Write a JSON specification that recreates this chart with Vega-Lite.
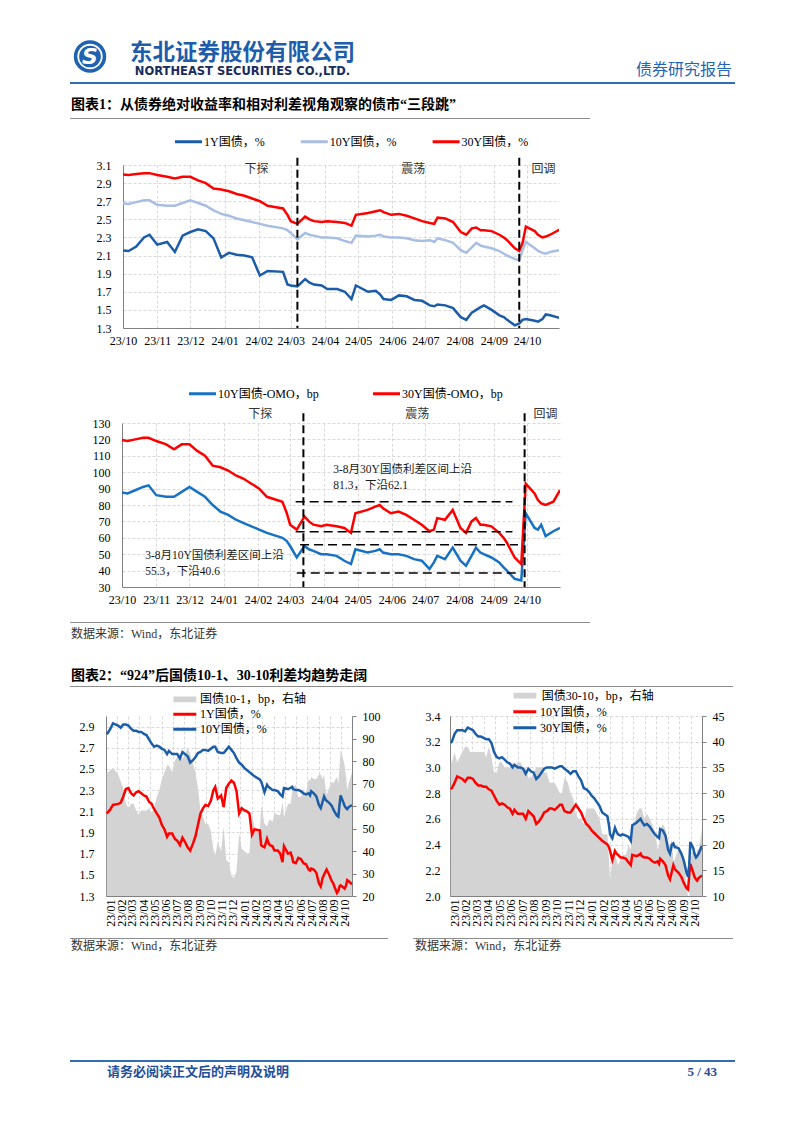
{
"$schema": "https://vega.github.io/schema/vega-lite/v6.json",
"background": "#ffffff",
"padding": {"left": 70, "top": 38, "right": 0, "bottom": 0},
"config": {
  "view": {"stroke": null},
  "axis": {"labelFont": "Liberation Serif", "labelFontSize": 12, "labelColor": "#000000", "domainColor": "#808080", "domainWidth": 1, "gridColor": "#D9D9D9", "gridDash": [3, 2], "gridWidth": 1, "ticks": false, "tickColor": "#808080", "labelOverlap": false},
  "legend": {"labelFont": "Liberation Serif, Noto Sans CJK SC", "labelFontSize": 12, "labelColor": "#000000", "padding": 0, "rowPadding": 0},
  "text": {"font": "Liberation Serif, Noto Sans CJK SC"}
},
"datasets": {
"yields": [
{"date":"2023-01-03","y1":2.08,"y10":2.83,"y30":3.19,"s101":75,"s3010":36},
{"date":"2023-01-06","y1":2.09,"y10":2.84,"y30":3.20,"s101":75,"s3010":36},
{"date":"2023-01-13","y1":2.12,"y10":2.88,"y30":3.26,"s101":76,"s3010":38},
{"date":"2023-01-20","y1":2.16,"y10":2.93,"y30":3.29,"s101":77,"s3010":36},
{"date":"2023-02-03","y1":2.17,"y10":2.91,"y30":3.29,"s101":74,"s3010":38},
{"date":"2023-02-10","y1":2.18,"y10":2.89,"y30":3.28,"s101":71,"s3010":39},
{"date":"2023-02-17","y1":2.24,"y10":2.92,"y30":3.31,"s101":68,"s3010":39},
{"date":"2023-02-24","y1":2.31,"y10":2.92,"y30":3.30,"s101":61,"s3010":38},
{"date":"2023-03-03","y1":2.32,"y10":2.91,"y30":3.29,"s101":59,"s3010":38},
{"date":"2023-03-10","y1":2.27,"y10":2.88,"y30":3.26,"s101":61,"s3010":38},
{"date":"2023-03-17","y1":2.25,"y10":2.86,"y30":3.24,"s101":61,"s3010":38},
{"date":"2023-03-24","y1":2.28,"y10":2.86,"y30":3.24,"s101":58,"s3010":38},
{"date":"2023-03-31","y1":2.29,"y10":2.85,"y30":3.23,"s101":56,"s3010":38},
{"date":"2023-04-07","y1":2.27,"y10":2.85,"y30":3.22,"s101":58,"s3010":37},
{"date":"2023-04-14","y1":2.25,"y10":2.83,"y30":3.22,"s101":58,"s3010":39},
{"date":"2023-04-21","y1":2.24,"y10":2.82,"y30":3.19,"s101":58,"s3010":37},
{"date":"2023-04-28","y1":2.19,"y10":2.78,"y30":3.12,"s101":59,"s3010":34},
{"date":"2023-05-05","y1":2.17,"y10":2.74,"y30":3.08,"s101":57,"s3010":34},
{"date":"2023-05-12","y1":2.12,"y10":2.71,"y30":3.07,"s101":59,"s3010":36},
{"date":"2023-05-19","y1":2.08,"y10":2.72,"y30":3.08,"s101":64,"s3010":36},
{"date":"2023-05-26","y1":2.04,"y10":2.71,"y30":3.06,"s101":67,"s3010":35},
{"date":"2023-06-02","y1":1.97,"y10":2.69,"y30":3.04,"s101":72,"s3010":35},
{"date":"2023-06-09","y1":1.93,"y10":2.68,"y30":3.03,"s101":75,"s3010":35},
{"date":"2023-06-16","y1":1.86,"y10":2.64,"y30":3.00,"s101":78,"s3010":36},
{"date":"2023-06-21","y1":1.89,"y10":2.67,"y30":3.02,"s101":78,"s3010":35},
{"date":"2023-06-30","y1":1.89,"y10":2.64,"y30":3.00,"s101":75,"s3010":36},
{"date":"2023-07-07","y1":1.84,"y10":2.64,"y30":3.00,"s101":80,"s3010":36},
{"date":"2023-07-14","y1":1.82,"y10":2.64,"y30":2.99,"s101":82,"s3010":35},
{"date":"2023-07-21","y1":1.78,"y10":2.60,"y30":2.95,"s101":82,"s3010":35},
{"date":"2023-07-28","y1":1.85,"y10":2.66,"y30":2.99,"s101":81,"s3010":33},
{"date":"2023-08-04","y1":1.81,"y10":2.64,"y30":2.97,"s101":83,"s3010":33},
{"date":"2023-08-11","y1":1.76,"y10":2.62,"y30":2.96,"s101":86,"s3010":34},
{"date":"2023-08-18","y1":1.73,"y10":2.56,"y30":2.91,"s101":83,"s3010":35},
{"date":"2023-08-25","y1":1.79,"y10":2.58,"y30":2.93,"s101":79,"s3010":35},
{"date":"2023-09-01","y1":1.86,"y10":2.61,"y30":2.96,"s101":75,"s3010":35},
{"date":"2023-09-08","y1":1.97,"y10":2.65,"y30":2.99,"s101":68,"s3010":34},
{"date":"2023-09-15","y1":2.08,"y10":2.66,"y30":3.00,"s101":58,"s3010":34},
{"date":"2023-09-22","y1":2.13,"y10":2.68,"y30":3.00,"s101":55,"s3010":32},
{"date":"2023-09-28","y1":2.16,"y10":2.68,"y30":3.00,"s101":52,"s3010":32},
{"date":"2023-10-06","y1":2.15,"y10":2.67,"y30":2.99,"s101":52,"s3010":32},
{"date":"2023-10-13","y1":2.20,"y10":2.69,"y30":3.00,"s101":49,"s3010":31},
{"date":"2023-10-20","y1":2.30,"y10":2.71,"y30":3.01,"s101":41,"s3010":30},
{"date":"2023-10-25","y1":2.33,"y10":2.71,"y30":3.01,"s101":38,"s3010":30},
{"date":"2023-11-01","y1":2.22,"y10":2.66,"y30":2.99,"s101":44,"s3010":33},
{"date":"2023-11-10","y1":2.25,"y10":2.65,"y30":2.97,"s101":40,"s3010":32},
{"date":"2023-11-17","y1":2.14,"y10":2.65,"y30":2.95,"s101":51,"s3010":30},
{"date":"2023-11-24","y1":2.32,"y10":2.68,"y30":2.97,"s101":36,"s3010":29},
{"date":"2023-12-01","y1":2.36,"y10":2.71,"y30":2.97,"s101":35,"s3010":26},
{"date":"2023-12-08","y1":2.39,"y10":2.68,"y30":2.93,"s101":29,"s3010":25},
{"date":"2023-12-15","y1":2.37,"y10":2.65,"y30":2.90,"s101":28,"s3010":25},
{"date":"2023-12-22","y1":2.29,"y10":2.60,"y30":2.84,"s101":31,"s3010":24},
{"date":"2023-12-29","y1":2.08,"y10":2.56,"y30":2.83,"s101":48,"s3010":27},
{"date":"2024-01-05","y1":2.13,"y10":2.54,"y30":2.81,"s101":41,"s3010":27},
{"date":"2024-01-12","y1":2.11,"y10":2.51,"y30":2.78,"s101":40,"s3010":27},
{"date":"2024-01-19","y1":2.10,"y10":2.49,"y30":2.76,"s101":39,"s3010":27},
{"date":"2024-01-26","y1":2.08,"y10":2.47,"y30":2.73,"s101":39,"s3010":26},
{"date":"2024-02-02","y1":1.88,"y10":2.45,"y30":2.70,"s101":57,"s3010":25},
{"date":"2024-02-09","y1":1.93,"y10":2.43,"y30":2.65,"s101":50,"s3010":22},
{"date":"2024-02-23","y1":1.92,"y10":2.40,"y30":2.62,"s101":48,"s3010":22},
{"date":"2024-02-27","y1":1.78,"y10":2.38,"y30":2.55,"s101":60,"s3010":17},
{"date":"2024-03-01","y1":1.77,"y10":2.35,"y30":2.48,"s101":58,"s3010":13},
{"date":"2024-03-07","y1":1.76,"y10":2.28,"y30":2.45,"s101":52,"s3010":17},
{"date":"2024-03-14","y1":1.84,"y10":2.35,"y30":2.53,"s101":51,"s3010":18},
{"date":"2024-03-18","y1":1.80,"y10":2.33,"y30":2.50,"s101":53,"s3010":17},
{"date":"2024-03-22","y1":1.78,"y10":2.32,"y30":2.48,"s101":54,"s3010":16},
{"date":"2024-03-29","y1":1.77,"y10":2.30,"y30":2.47,"s101":53,"s3010":17},
{"date":"2024-04-03","y1":1.73,"y10":2.30,"y30":2.48,"s101":57,"s3010":18},
{"date":"2024-04-12","y1":1.73,"y10":2.29,"y30":2.47,"s101":56,"s3010":18},
{"date":"2024-04-19","y1":1.70,"y10":2.26,"y30":2.46,"s101":56,"s3010":20},
{"date":"2024-04-25","y1":1.62,"y10":2.24,"y30":2.43,"s101":62,"s3010":19},
{"date":"2024-04-29","y1":1.77,"y10":2.32,"y30":2.55,"s101":55,"s3010":23},
{"date":"2024-05-10","y1":1.70,"y10":2.31,"y30":2.57,"s101":61,"s3010":26},
{"date":"2024-05-17","y1":1.71,"y10":2.32,"y30":2.59,"s101":61,"s3010":27},
{"date":"2024-05-21","y1":1.67,"y10":2.33,"y30":2.60,"s101":66,"s3010":27},
{"date":"2024-05-24","y1":1.62,"y10":2.31,"y30":2.58,"s101":69,"s3010":27},
{"date":"2024-05-31","y1":1.61,"y10":2.30,"y30":2.55,"s101":69,"s3010":25},
{"date":"2024-06-07","y1":1.66,"y10":2.30,"y30":2.56,"s101":64,"s3010":26},
{"date":"2024-06-14","y1":1.65,"y10":2.29,"y30":2.54,"s101":64,"s3010":25},
{"date":"2024-06-21","y1":1.61,"y10":2.27,"y30":2.51,"s101":66,"s3010":24},
{"date":"2024-06-28","y1":1.60,"y10":2.26,"y30":2.48,"s101":66,"s3010":22},
{"date":"2024-07-05","y1":1.55,"y10":2.27,"y30":2.46,"s101":72,"s3010":19},
{"date":"2024-07-09","y1":1.54,"y10":2.25,"y30":2.45,"s101":71,"s3010":20},
{"date":"2024-07-12","y1":1.56,"y10":2.29,"y30":2.52,"s101":73,"s3010":23},
{"date":"2024-07-19","y1":1.55,"y10":2.27,"y30":2.51,"s101":72,"s3010":24},
{"date":"2024-07-26","y1":1.52,"y10":2.24,"y30":2.47,"s101":72,"s3010":23},
{"date":"2024-08-02","y1":1.42,"y10":2.16,"y30":2.36,"s101":74,"s3010":20},
{"date":"2024-08-07","y1":1.39,"y10":2.13,"y30":2.33,"s101":74,"s3010":20},
{"date":"2024-08-12","y1":1.47,"y10":2.19,"y30":2.40,"s101":72,"s3010":21},
{"date":"2024-08-16","y1":1.50,"y10":2.24,"y30":2.41,"s101":74,"s3010":17},
{"date":"2024-08-20","y1":1.53,"y10":2.21,"y30":2.38,"s101":68,"s3010":17},
{"date":"2024-08-23","y1":1.55,"y10":2.20,"y30":2.38,"s101":65,"s3010":18},
{"date":"2024-08-30","y1":1.50,"y10":2.18,"y30":2.37,"s101":68,"s3010":19},
{"date":"2024-09-06","y1":1.44,"y10":2.15,"y30":2.33,"s101":71,"s3010":18},
{"date":"2024-09-10","y1":1.42,"y10":2.12,"y30":2.30,"s101":70,"s3010":18},
{"date":"2024-09-13","y1":1.39,"y10":2.10,"y30":2.27,"s101":71,"s3010":17},
{"date":"2024-09-20","y1":1.33,"y10":2.06,"y30":2.18,"s101":73,"s3010":12},
{"date":"2024-09-24","y1":1.35,"y10":2.05,"y30":2.15,"s101":70,"s3010":10},
{"date":"2024-09-27","y1":1.39,"y10":2.16,"y30":2.24,"s101":77,"s3010":8},
{"date":"2024-09-30","y1":1.40,"y10":2.25,"y30":2.42,"s101":85,"s3010":17},
{"date":"2024-10-08","y1":1.38,"y10":2.18,"y30":2.37,"s101":80,"s3010":19},
{"date":"2024-10-11","y1":1.37,"y10":2.15,"y30":2.33,"s101":78,"s3010":18},
{"date":"2024-10-15","y1":1.40,"y10":2.13,"y30":2.30,"s101":73,"s3010":17},
{"date":"2024-10-18","y1":1.45,"y10":2.12,"y30":2.31,"s101":67,"s3010":19},
{"date":"2024-10-22","y1":1.44,"y10":2.14,"y30":2.33,"s101":70,"s3010":19},
{"date":"2024-10-31","y1":1.41,"y10":2.16,"y30":2.39,"s101":75,"s3010":23}
],
"omo": [
{"date":"2023-09-28","s10":88,"s30":120},
{"date":"2023-10-06","s10":87,"s30":119},
{"date":"2023-10-13","s10":89,"s30":120},
{"date":"2023-10-20","s10":91,"s30":121},
{"date":"2023-10-25","s10":92,"s30":121},
{"date":"2023-11-01","s10":86,"s30":119},
{"date":"2023-11-10","s10":85,"s30":117},
{"date":"2023-11-17","s10":85,"s30":114},
{"date":"2023-11-24","s10":88,"s30":117},
{"date":"2023-12-01","s10":91,"s30":117},
{"date":"2023-12-08","s10":88,"s30":113},
{"date":"2023-12-15","s10":85,"s30":110},
{"date":"2023-12-22","s10":80,"s30":104},
{"date":"2023-12-29","s10":76,"s30":103},
{"date":"2024-01-05","s10":74,"s30":101},
{"date":"2024-01-12","s10":71,"s30":98},
{"date":"2024-01-19","s10":69,"s30":96},
{"date":"2024-01-26","s10":67,"s30":93},
{"date":"2024-02-02","s10":65,"s30":90},
{"date":"2024-02-09","s10":63,"s30":85},
{"date":"2024-02-23","s10":60,"s30":82},
{"date":"2024-02-27","s10":58,"s30":75},
{"date":"2024-03-01","s10":55,"s30":68},
{"date":"2024-03-07","s10":48,"s30":65},
{"date":"2024-03-14","s10":55,"s30":73},
{"date":"2024-03-18","s10":53,"s30":70},
{"date":"2024-03-22","s10":52,"s30":68},
{"date":"2024-03-29","s10":50,"s30":67},
{"date":"2024-04-03","s10":50,"s30":68},
{"date":"2024-04-12","s10":49,"s30":67},
{"date":"2024-04-19","s10":46,"s30":66},
{"date":"2024-04-25","s10":44,"s30":63},
{"date":"2024-04-29","s10":53,"s30":75},
{"date":"2024-05-10","s10":51,"s30":77},
{"date":"2024-05-17","s10":52,"s30":79},
{"date":"2024-05-21","s10":53,"s30":80},
{"date":"2024-05-24","s10":51,"s30":78},
{"date":"2024-05-31","s10":50,"s30":75},
{"date":"2024-06-07","s10":50,"s30":76},
{"date":"2024-06-14","s10":49,"s30":74},
{"date":"2024-06-21","s10":47,"s30":71},
{"date":"2024-06-28","s10":46,"s30":68},
{"date":"2024-07-05","s10":41,"s30":64},
{"date":"2024-07-09","s10":45,"s30":65},
{"date":"2024-07-12","s10":49,"s30":72},
{"date":"2024-07-19","s10":47,"s30":71},
{"date":"2024-07-26","s10":54,"s30":77},
{"date":"2024-08-02","s10":46,"s30":66},
{"date":"2024-08-07","s10":43,"s30":63},
{"date":"2024-08-12","s10":49,"s30":70},
{"date":"2024-08-16","s10":54,"s30":72},
{"date":"2024-08-20","s10":51,"s30":68},
{"date":"2024-08-23","s10":50,"s30":68},
{"date":"2024-08-30","s10":48,"s30":67},
{"date":"2024-09-06","s10":45,"s30":63},
{"date":"2024-09-10","s10":42,"s30":60},
{"date":"2024-09-13","s10":40,"s30":57},
{"date":"2024-09-20","s10":35,"s30":48},
{"date":"2024-09-26","s10":34,"s30":44},
{"date":"2024-09-30","s10":75,"s30":93},
{"date":"2024-10-08","s10":66,"s30":87},
{"date":"2024-10-11","s10":65,"s30":83},
{"date":"2024-10-14","s10":68,"s30":81},
{"date":"2024-10-18","s10":61,"s30":80},
{"date":"2024-10-25","s10":64,"s30":82},
{"date":"2024-10-31","s10":66,"s30":89}
]
},
"spacing": 0,
"bounds": "full",
"resolve": {"scale": {"stroke": "independent", "fill": "independent"}},
"vconcat": [
{"hconcat": [
 {"width":40,"height":37,"data":{"values":[{}]},"layer":[
  {"mark":{"type":"point","filled":true,"size":1050,"color":"#1F62B0","opacity":1,"strokeWidth":0}},
  {"mark":{"type":"point","filled":true,"size":640,"color":"#FFFFFF","opacity":1,"strokeWidth":0}},
  {"mark":{"type":"point","filled":true,"size":470,"color":"#1F62B0","opacity":1,"strokeWidth":0}},
  {"mark":{"type":"text","text":"S","font":"DejaVu Sans","fontSize":22,"fontWeight":"bold","fontStyle":"italic","color":"#FFFFFF","baseline":"middle"}}
 ]},
 {"width":18,"height":44,"data":{"values":[]},"mark":"point"},
 {"width":229,"height":44,"data":{"values":[{}]},"layer":[
  {"mark":{"type":"text","text":"东北证券股份有限公司","font":"Noto Sans CJK SC","fontSize":22.5,"fontWeight":"bold","color":"#1D5DAB","baseline":"middle","dy":-7.5}},
  {"mark":{"type":"text","text":"NORTHEAST SECURITIES CO.,LTD.","font":"DejaVu Sans","fontSize":11.5,"fontWeight":"bold","color":"#1B2B5B","baseline":"middle","dy":11.7}}
 ]},
 {"width":374,"height":44,"data":{"values":[]},"mark":"point"},
 {"width":2,"height":44,"data":{"values":[{}]},"mark":{"type":"text","text":"债券研究报告","font":"Noto Sans CJK SC","fontSize":16,"color":"#2566B3","align":"right","baseline":"middle","dy":10}}
], "spacing": 0, "bounds": "flush"},

{"width":665,"height":2,"data":{"values":[]},"mark":"point","view":{"fill":"#2F6EB5","stroke":null}},
{"width":1,"height":11,"data":{"values":[]},"mark":"point"},
{"width":2,"height":20,"data":{"values":[{}]},"mark":{"type":"text","text":"图表1：从债券绝对收益率和相对利差视角观察的债市“三段跳”","align":"left","baseline":"middle","fontSize":14,"fontWeight":"bold","color":"#000000"}},
{"width":1,"height":3,"data":{"values":[]},"mark":"point"},
{"width":520,"height":1,"data":{"values":[]},"mark":"point","view":{"fill":"#8C8C8C","stroke":null}},
{"width":1,"height":15,"data":{"values":[]},"mark":"point"},

{"hconcat": [
 {"width":53,"height":221,"data":{"values":[]},"mark":"point"},
 {"width":436,"height":163,"data":{"name":"yields"},"layer":[
  {"transform":[{"fold":["y1","y10","y30"],"as":["k","v"]}],
   "mark":{"type":"line","clip":true,"strokeWidth":2.5},
   "encoding":{
    "x":{"field":"date","type":"temporal","title":null,"scale":{"type":"utc","domain":[{"year":2023,"month":10,"date":1,"utc":true},{"year":2024,"month":10,"date":30,"utc":true}]},"axis":{"tickCount":{"interval":"month","step":1},"labelExpr":"utcFormat(datum.value, '%y/%m')","grid":true,"labelPadding":7,"labelFlush":false,"labelOverlap":false}},
    "y":{"field":"v","type":"quantitative","title":null,"scale":{"domain":[1.3,3.1],"nice":false,"zero":false},"axis":{"values":[1.3,1.5,1.7,1.9,2.1,2.3,2.5,2.7,2.9,3.1],"format":".1f","grid":true,"labelPadding":12,"labelOverlap":false}},
    "stroke":{"field":"k","type":"nominal","scale":{"domain":["y1","y10","y30"],"range":["#1B5CA9","#A8BEE3","#FF0000"]},"legend":{"title":null,"orient":"none","legendX":50.5,"legendY":-30.3,"direction":"horizontal","symbolType":"stroke","symbolSize":729,"symbolStrokeWidth":3,"clipHeight":14,"labelOffset":0.5,"columnPadding":33.8,"labelExpr":"datum.label == 'y1' ? '1Y国债，%' : datum.label == 'y10' ? '10Y国债，%' : '30Y国债，%'"}}
   }},
  {"data":{"values":[{"d":"2024-03-07"},{"d":"2024-09-24"}]},
   "mark":{"type":"rule","strokeDash":[8,4],"strokeWidth":2,"color":"#000000"},
   "encoding":{"x":{"field":"d","type":"temporal","axis":null,"scale":{"type":"utc","domain":[{"year":2023,"month":10,"date":1,"utc":true},{"year":2024,"month":10,"date":30,"utc":true}]}},"y":{"datum":3.18,"axis":null,"scale":{"domain":[1.3,3.1],"nice":false,"zero":false}},"y2":{"datum":1.3}}},
  {"data":{"values":[{"d":"2024-01-30","t":"下探"},{"d":"2024-06-20","t":"震荡"},{"d":"2024-10-16","t":"回调"}]},
   "mark":{"type":"text","font":"Noto Sans CJK SC","fontSize":12,"color":"#333333"},
   "encoding":{"x":{"field":"d","type":"temporal","axis":null,"scale":{"type":"utc","domain":[{"year":2023,"month":10,"date":1,"utc":true},{"year":2024,"month":10,"date":30,"utc":true}]}},"y":{"datum":3.06,"axis":null,"scale":{"domain":[1.3,3.1],"nice":false,"zero":false}},"text":{"field":"t"}}}
 ],
 "resolve": {"axis": {"x": "independent", "y": "independent"}}}
], "spacing": 0, "bounds": "flush", "resolve": {"scale": {"stroke": "independent", "fill": "independent"}}},

{"hconcat": [
 {"width":52,"height":199,"data":{"values":[]},"mark":"point"},
 {"width":438,"height":164,"data":{"name":"omo"},"layer":[
  {"transform":[{"fold":["s10","s30"],"as":["k","v"]}],
   "mark":{"type":"line","clip":true,"strokeWidth":2.5},
   "encoding":{
    "x":{"field":"date","type":"temporal","title":null,"scale":{"type":"utc","domain":[{"year":2023,"month":10,"date":1,"utc":true},{"year":2024,"month":10,"date":31,"utc":true}]},"axis":{"tickCount":{"interval":"month","step":1},"labelExpr":"utcFormat(datum.value, '%y/%m')","grid":true,"labelPadding":7,"labelFlush":false,"labelOverlap":false}},
    "y":{"field":"v","type":"quantitative","title":null,"scale":{"domain":[30,130],"nice":false,"zero":false},"axis":{"values":[30,40,50,60,70,80,90,100,110,120,130],"grid":true,"labelPadding":12,"labelOverlap":false}},
    "stroke":{"field":"k","type":"nominal","scale":{"domain":["s10","s30"],"range":["#1872C4","#FF0000"]},"legend":{"title":null,"orient":"none","legendX":65.5,"legendY":-36.3,"direction":"horizontal","symbolType":"stroke","symbolSize":729,"symbolStrokeWidth":3,"clipHeight":14,"labelOffset":0.5,"columnPadding":52,"labelExpr":"datum.label == 's10' ? '10Y国债-OMO，bp' : '30Y国债-OMO，bp'"}}
   }},
  {"data":{"values":[{"a":"2024-03-06","b":"2024-09-18","v":82.0},{"a":"2024-03-06","b":"2024-09-18","v":63.7},{"a":"2024-03-10","b":"2024-09-23","v":55.8},{"a":"2024-03-07","b":"2024-09-21","v":38.5}]},
   "mark":{"type":"rule","strokeDash":[9,5],"strokeWidth":1.6,"color":"#000000"},
   "encoding":{"x":{"field":"a","type":"temporal","axis":null,"scale":{"type":"utc","domain":[{"year":2023,"month":10,"date":1,"utc":true},{"year":2024,"month":10,"date":31,"utc":true}]}},"x2":{"field":"b"},"y":{"field":"v","type":"quantitative","axis":null,"scale":{"domain":[30,130],"nice":false,"zero":false}}}},
  {"data":{"values":[{"d":"2024-03-13"},{"d":"2024-09-29"}]},
   "mark":{"type":"rule","strokeDash":[8,4],"strokeWidth":2,"color":"#000000"},
   "encoding":{"x":{"field":"d","type":"temporal","axis":null,"scale":{"type":"utc","domain":[{"year":2023,"month":10,"date":1,"utc":true},{"year":2024,"month":10,"date":31,"utc":true}]}},"y":{"datum":136,"axis":null,"scale":{"domain":[30,130],"nice":false,"zero":false}},"y2":{"datum":30}}},
  {"data":{"values":[{"d":"2024-02-03","t":"下探"},{"d":"2024-06-24","t":"震荡"},{"d":"2024-10-18","t":"回调"}]},
   "mark":{"type":"text","font":"Noto Sans CJK SC","fontSize":12,"color":"#333333"},
   "encoding":{"x":{"field":"d","type":"temporal","axis":null,"scale":{"type":"utc","domain":[{"year":2023,"month":10,"date":1,"utc":true},{"year":2024,"month":10,"date":31,"utc":true}]}},"y":{"datum":135.5,"axis":null,"scale":{"domain":[30,130],"nice":false,"zero":false}},"text":{"field":"t"}}},
  {"data":{"values":[{"d":"2024-04-09","v":101.2,"t":"3-8月30Y国债利差区间上沿"},{"d":"2024-04-09","v":91.6,"t":"81.3，下沿62.1"},{"d":"2023-10-22","v":48.9,"t":"3-8月10Y国债利差区间上沿"},{"d":"2023-10-22","v":39.3,"t":"55.3，下沿40.6"}]},
   "mark":{"type":"text","align":"left","fontSize":11.5,"color":"#1A1A1A"},
   "encoding":{"x":{"field":"d","type":"temporal","axis":null,"scale":{"type":"utc","domain":[{"year":2023,"month":10,"date":1,"utc":true},{"year":2024,"month":10,"date":31,"utc":true}]}},"y":{"field":"v","type":"quantitative","axis":null,"scale":{"domain":[30,130],"nice":false,"zero":false}},"text":{"field":"t"}}}
 ],
 "resolve": {"axis": {"x": "independent", "y": "independent"}}}
], "spacing": 0, "bounds": "flush", "resolve": {"scale": {"stroke": "independent", "fill": "independent"}}},

{"width":520,"height":1,"data":{"values":[]},"mark":"point","view":{"fill":"#8C8C8C","stroke":null}},
{"width":2,"height":21,"data":{"values":[{}]},"mark":{"type":"text","text":"数据来源：Wind，东北证券","align":"left","baseline":"middle","fontSize":12,"color":"#333333"}},
{"width":1,"height":21,"data":{"values":[]},"mark":"point"},
{"width":2,"height":21,"data":{"values":[{}]},"mark":{"type":"text","text":"图表2：“924”后国债10-1、30-10利差均趋势走阔","align":"left","baseline":"middle","fontSize":14,"fontWeight":"bold","color":"#000000"}},
{"width":663,"height":1,"data":{"values":[]},"mark":"point","view":{"fill":"#8C8C8C","stroke":null}},
{"width":1,"height":1,"data":{"values":[]},"mark":"point"},

{"hconcat": [
 {"width":36,"height":222,"data":{"values":[]},"mark":"point"},
 {"width":246,"height":180,"data":{"name":"yields"},"layer":[
  {"mark":{"type":"area","clip":true},
   "encoding":{
    "x":{"field":"date","type":"temporal","title":null,"scale":{"type":"utc","domain":[{"year":2023,"month":1,"date":1,"utc":true},{"year":2024,"month":10,"date":31,"utc":true}]},"axis":{"tickCount":{"interval":"month","step":1},"labelExpr":"utcFormat(datum.value, '%y/%m')","labelAngle":270,"labelAlign":"right","labelBaseline":"middle","labelOffset":4,"labelPadding":3,"grid":true,"labelFlush":false,"labelOverlap":false}},
    "y":{"field":"s101","type":"quantitative","title":null,"scale":{"domain":[20,100],"nice":false,"zero":false},"axis":{"orient":"right","values":[20,30,40,50,60,70,80,90,100],"grid":false,"ticks":true,"tickSize":4,"labelPadding":6,"labelOverlap":false}},
    "y2":{"datum":20},
    "fill":{"datum":"国债10-1，bp，右轴","scale":{"range":["#D3D3D3"]},"legend":{"title":null,"orient":"none","legendX":67.3,"legendY":-24.2,"symbolType":"M-1,-0.25H1V0.25H-1Z","symbolSize":529,"symbolStrokeWidth":0,"clipHeight":15,"labelOffset":3.7}}
   }},
  {"transform":[{"fold":["y1","y10"],"as":["k","v"]}],
   "mark":{"type":"line","clip":true,"strokeWidth":2.5},
   "encoding":{
    "x":{"field":"date","type":"temporal","title":null,"scale":{"type":"utc","domain":[{"year":2023,"month":1,"date":1,"utc":true},{"year":2024,"month":10,"date":31,"utc":true}]}},
    "y":{"field":"v","type":"quantitative","title":null,"scale":{"domain":[1.3,3.0],"nice":false,"zero":false},"axis":{"orient":"left","values":[1.3,1.5,1.7,1.9,2.1,2.3,2.5,2.7,2.9],"format":".1f","grid":true,"labelPadding":12,"labelOverlap":false}},
    "stroke":{"field":"k","type":"nominal","scale":{"domain":["y1","y10"],"range":["#FF0000","#1C5DA8"]},"legend":{"title":null,"orient":"none","legendX":65.8,"legendY":-9.2,"direction":"vertical","symbolType":"stroke","symbolSize":529,"symbolStrokeWidth":3,"clipHeight":15,"labelOffset":2.2,"labelExpr":"datum.label == 'y1' ? '1Y国债，%' : '10Y国债，%'"}}
   }}
  ],
  "resolve":{"scale":{"y":"independent"}}
 },
 {"width":98,"height":222,"data":{"values":[]},"mark":"point"},
 {"width":252,"height":180,"data":{"name":"yields"},"layer":[
  {"mark":{"type":"area","clip":true},
   "encoding":{
    "x":{"field":"date","type":"temporal","title":null,"scale":{"type":"utc","domain":[{"year":2023,"month":1,"date":1,"utc":true},{"year":2024,"month":10,"date":31,"utc":true}]},"axis":{"tickCount":{"interval":"month","step":1},"labelExpr":"utcFormat(datum.value, '%y/%m')","labelAngle":270,"labelAlign":"right","labelBaseline":"middle","labelOffset":4,"labelPadding":3,"grid":true,"labelFlush":false,"labelOverlap":false}},
    "y":{"field":"s3010","type":"quantitative","title":null,"scale":{"domain":[10,45],"nice":false,"zero":false},"axis":{"orient":"right","values":[10,15,20,25,30,35,40,45],"grid":false,"ticks":true,"tickSize":4,"labelPadding":6,"labelOverlap":false}},
    "y2":{"datum":10},
    "fill":{"datum":"国债30-10，bp，右轴","scale":{"range":["#D3D3D3"]},"legend":{"title":null,"orient":"none","legendX":63.3,"legendY":-28,"symbolType":"M-1,-0.25H1V0.25H-1Z","symbolSize":529,"symbolStrokeWidth":0,"clipHeight":15,"labelOffset":5.4}}
   }},
  {"transform":[{"fold":["y10","y30"],"as":["k","v"]}],
   "mark":{"type":"line","clip":true,"strokeWidth":2.5},
   "encoding":{
    "x":{"field":"date","type":"temporal","title":null,"scale":{"type":"utc","domain":[{"year":2023,"month":1,"date":1,"utc":true},{"year":2024,"month":10,"date":31,"utc":true}]}},
    "y":{"field":"v","type":"quantitative","title":null,"scale":{"domain":[2.0,3.4],"nice":false,"zero":false},"axis":{"orient":"left","values":[2.0,2.2,2.4,2.6,2.8,3.0,3.2,3.4],"format":".1f","grid":true,"labelPadding":10,"labelOverlap":false}},
    "stroke":{"field":"k","type":"nominal","scale":{"domain":["y10","y30"],"range":["#FF0000","#1C5DA8"]},"legend":{"title":null,"orient":"none","legendX":61.8,"legendY":-11.8,"direction":"vertical","symbolType":"stroke","symbolSize":529,"symbolStrokeWidth":3,"clipHeight":15.3,"labelOffset":2.2,"labelExpr":"datum.label == 'y10' ? '10Y国债，%' : '30Y国债，%'"}}
   }}
  ],
  "resolve":{"scale":{"y":"independent"}}
 }
], "spacing": 0, "bounds": "flush", "resolve": {"scale": {"stroke": "independent", "fill": "independent"}}},

{"hconcat": [
 {"width":318,"height":1,"data":{"values":[]},"mark":"point","view":{"fill":"#8C8C8C","stroke":null}},
 {"width":25,"height":1,"data":{"values":[]},"mark":"point"},
 {"width":320,"height":1,"data":{"values":[]},"mark":"point","view":{"fill":"#8C8C8C","stroke":null}}
], "spacing": 0, "bounds": "flush"},

{"hconcat": [
 {"width":2,"height":14,"data":{"values":[{}]},"mark":{"type":"text","text":"数据来源：Wind，东北证券","align":"left","baseline":"middle","fontSize":12,"color":"#333333"}},
 {"width":342,"height":14,"data":{"values":[]},"mark":"point"},
 {"width":2,"height":14,"data":{"values":[{}]},"mark":{"type":"text","text":"数据来源：Wind，东北证券","align":"left","baseline":"middle","fontSize":12,"color":"#333333"}}
], "spacing": 0, "bounds": "flush"},

{"width":1,"height":107,"data":{"values":[]},"mark":"point"},
{"width":665,"height":2,"data":{"values":[]},"mark":"point","view":{"fill":"#2F6EB5","stroke":null}},

{"hconcat": [
 {"width":36,"height":20,"data":{"values":[]},"mark":"point"},
 {"width":2,"height":20,"data":{"values":[{}]},"mark":{"type":"text","text":"请务必阅读正文后的声明及说明","align":"left","baseline":"middle","font":"Noto Sans CJK SC","fontSize":13,"fontWeight":"bold","color":"#1F4E9A"}},
 {"width":608,"height":20,"data":{"values":[]},"mark":"point"},
 {"width":2,"height":20,"data":{"values":[{}]},"mark":{"type":"text","text":"5 / 43","align":"right","baseline":"middle","font":"Liberation Serif","fontSize":13,"fontWeight":"bold","color":"#1F4E9A"}}
], "spacing": 0, "bounds": "flush"}
]
}
